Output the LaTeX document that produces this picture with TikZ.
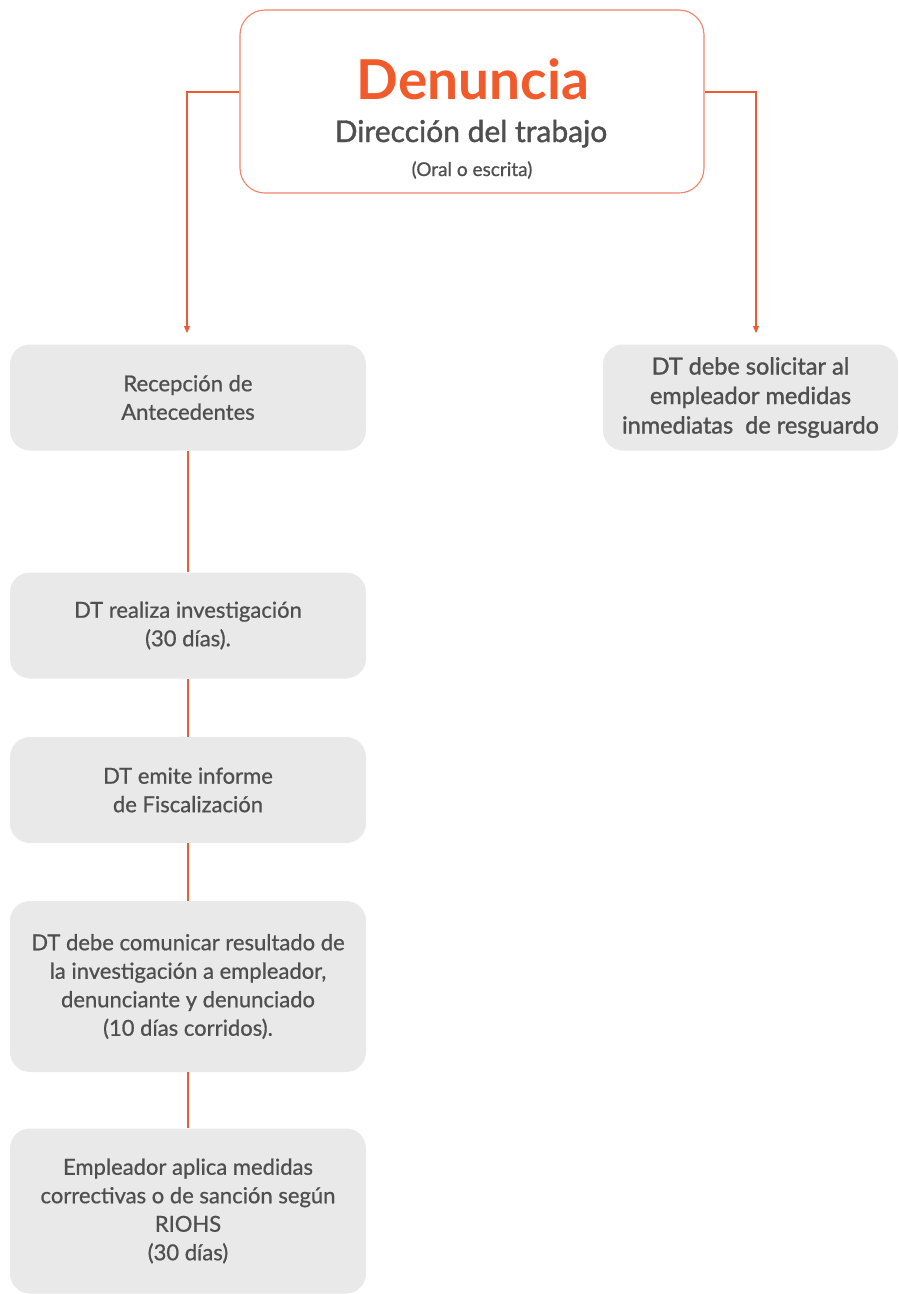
\documentclass[tikz,border=0pt]{standalone}
\usepackage{fontspec}
\setmainfont{Lato}
\newfontfamily\latosemi{Lato}[FakeBold=0.7]
\newfontfamily\latobolder{Lato}[FakeBold=1.3]
\usetikzlibrary{arrows.meta}
\definecolor{orangeA}{HTML}{EE5A34}
\definecolor{orangeB}{HTML}{F0826A}
\definecolor{titleor}{HTML}{F15A2B}
\definecolor{boxgray}{HTML}{E9E9E9}
\definecolor{txtgray}{HTML}{4F4F4F}
\tikzset{
  graybox/.style={draw=none, fill=boxgray, rounded corners=20pt, inner sep=0pt,
    align=center, text=txtgray, font=\latosemi\fontsize{22}{28.5}\selectfont},
  conn/.style={draw=orangeA, line width=1.2pt},
  arr/.style={conn, -{Triangle[length=7pt,width=6pt]}},
}
\begin{document}
\begin{tikzpicture}[x=1pt,y=-1pt]
\useasboundingbox (0,0) rectangle (898,1294);
\fill[white] (0,0) rectangle (898,1294);
% top box
\node[draw=orangeB, line width=1.1pt, rounded corners=25pt, minimum width=464pt, minimum height=183pt, inner sep=0pt]
  (top) at (472,101.5) {};
\node[anchor=base, text=titleor, font=\bfseries\fontsize{55}{60}\selectfont] (tA) at (473,99) {Denuncia};
\node[anchor=base, text=txtgray, font=\latobolder\fontsize{30}{34}\selectfont] (tB) at (471,142) {Dirección del trabajo};
\node[anchor=base, text=txtgray, font=\latosemi\fontsize{19}{22}\selectfont] (tC) at (472,176) {(Oral o escrita)};
% left column
\node[graybox, minimum width=356pt, minimum height=106pt] (b1) at (188,397.5) {Recepción de\\Antecedentes};
\node[graybox, minimum width=356pt, minimum height=106pt] (b2) at (188,625.5) {DT realiza investigación\\(30 días).};
\node[graybox, minimum width=356pt, minimum height=106pt] (b3) at (188,790) {DT emite informe\\de Fiscalización};
\node[graybox, minimum width=356pt, minimum height=171pt] (b4) at (188,986.5) {DT debe comunicar resultado de\\la investigación a empleador,\\denunciante y denunciado\\(10 días corridos).};
\node[graybox, minimum width=356pt, minimum height=165pt] (b5) at (188,1211) {Empleador aplica medidas\\correctivas o de sanción según\\RIOHS\\(30 días)};
% right box
\node[graybox, font=\latobolder\fontsize{23.5}{29.5}\selectfont, minimum width=295pt, minimum height=106pt] (r1) at (750.5,397.5) {DT debe solicitar al\\empleador medidas\\inmediatas\ \ de resguardo};
% connectors
\coordinate (lA) at (187,333);
\coordinate (rA) at (756,333);
\draw[arr] ([yshift=9.5pt]top.west) -| (lA);
\draw[arr] ([yshift=9.5pt]top.east) -| (rA);
\draw[conn] (b1.south) -- (b2.north);
\draw[conn] (b2.south) -- (b3.north);
\draw[conn] (b3.south) -- (b4.north);
\draw[conn] (b4.south) -- (b5.north);
\end{tikzpicture}
\end{document}
